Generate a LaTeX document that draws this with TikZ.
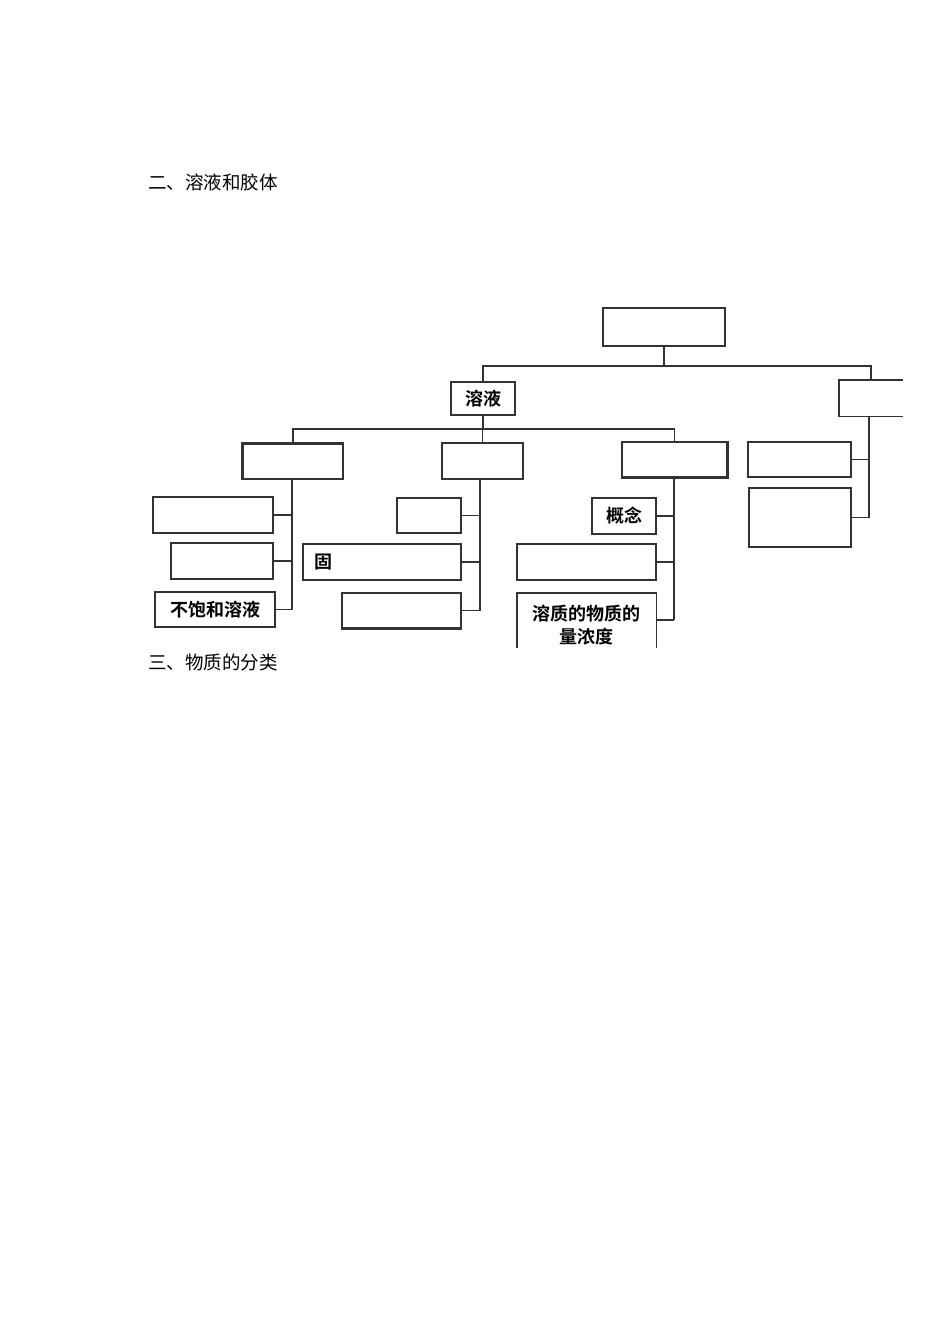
\documentclass[tikz,border=0pt]{standalone}
\usepackage{fontspec}
\newfontfamily\cjk[BoldFont={Noto Sans CJK SC Bold}]{Noto Sans CJK SC}
\definecolor{ln}{HTML}{333333}
\begin{document}
\begin{tikzpicture}[x=1pt,y=-1pt,
  box/.style={draw=ln,line width=1.4pt,inner sep=0pt,minimum width=#1},
  box/.default=60,
  thk/.style={line width=2.4pt},
  conn/.style={draw=ln,line width=1.3pt},
  btxt/.style={font=\cjk\bfseries\fontsize{18}{23}\selectfont},
  htxt/.style={font=\cjk\fontsize{18.5}{22}\selectfont,anchor=west,inner sep=0pt}]
\useasboundingbox[fill=white] (0,0) rectangle (950,1318);
% headings
\node[htxt] (h2) at (148,182) {二、溶液和胶体};
\node[htxt] (h3) at (148,662) {三、物质的分类};
% top
\node[box=122,minimum height=38] (top) at (664,327) {};
% level 1
\node[box=64,minimum height=33,btxt] (sol) at (483,398.5) {溶液};
\node[inner sep=0pt,minimum width=64,minimum height=36] (col) at (871,398) {};
\draw[ln,line width=1.4pt] (col.north east) -- (col.north west) -- (col.south west) -- (col.south east);
% level 2
\node[box=100,minimum height=35] (ca) at (293,461.5) {};
\draw[ln,line width=2.6pt] (ca.south west) -- (ca.north west) -- (ca.north east);
\node[box=81,minimum height=36] (cb) at (482.5,461) {};
\node[box=105,minimum height=35] (cc) at (674.5,459.5) {};
\draw[ln,line width=2.6pt] (cc.north east) -- (cc.south east) -- (cc.south west);
% right column children
\node[box=103,minimum height=35] (k1) at (799.5,459.5) {};
\node[box=102,minimum height=59] (k2) at (800,517.5) {};
% column 1 children
\node[box=120,minimum height=36] (a1) at (213,515) {};
\node[box=102,minimum height=36] (a2) at (222,561) {};
\node[box=120,minimum height=35,btxt] (a3) at (215,609.5) {不饱和溶液};
% column 2 children
\node[box=64,minimum height=35] (b1) at (429,515.5) {};
\node[box=158,minimum height=36] (b2) at (382,562) {};
\node[btxt,inner sep=0pt] (b2t) at (323,562) {固};
\node[box=119,minimum height=35] (b3) at (401.5,610.5) {};
\draw[ln,line width=2.6pt] (b3.south west) -- (b3.south east);
% column 3 children
\node[box=64,minimum height=36,btxt] (c1) at (624,516) {概念};
\node[box=139,minimum height=36] (c2) at (586.5,562) {};
\node[inner sep=0pt,minimum width=139,minimum height=55] (c3) at (586.5,620.5) {};
\draw[ln,line width=1.4pt] (c3.south west) -- (c3.north west) -- (c3.north east) -- (c3.south east);
\node[btxt,align=center,inner sep=0pt] (c3t) at (586,625) {溶质的物质的\\量浓度};
% connectors
\coordinate (h1) at (0,366);
\coordinate (h2l) at (0,429);
\draw[conn] (top.south) -- (top.south |- h1);
\draw[conn] (sol.north) -- (sol.north |- h1) -- (col.north |- h1) -- (col.north);
\draw[conn] (sol.south) -- (sol.south |- h2l);
\draw[conn] (ca.north) -- (ca.north |- h2l) -- (cc.north |- h2l) -- (cc.north);
\draw[conn] (cb.north) -- (cb.north |- h2l);
% column 1
\coordinate (va) at (292,0);
\draw[conn] (ca.south) -- (ca.south -| va) -- (va |- a3.east);
\draw[conn] (a1.east) -- (a1.east -| va);
\draw[conn] (a2.east) -- (a2.east -| va);
\draw[conn] (a3.east) -- (a3.east -| va);
% column 2
\coordinate (vb) at (480,0);
\draw[conn] (cb.south -| vb) -- (vb |- b3.east);
\draw[conn] (b1.east) -- (b1.east -| vb);
\draw[conn] (b2.east) -- (b2.east -| vb);
\draw[conn] (b3.east) -- (b3.east -| vb);
% column 3
\coordinate (vc) at (674,0);
\coordinate (c3j) at (0,620);
\draw[conn] (cc.south -| vc) -- (vc |- c3j);
\draw[conn] (c1.east) -- (c1.east -| vc);
\draw[conn] (c2.east) -- (c2.east -| vc);
\draw[conn] (c3.east |- c3j) -- (vc |- c3j);
% right column
\coordinate (vk) at (869,0);
\draw[conn] (col.south -| vk) -- (vk |- k2.east);
\draw[conn] (k1.east) -- (k1.east -| vk);
\draw[conn] (k2.east) -- (k2.east -| vk);
\end{tikzpicture}
\end{document}
